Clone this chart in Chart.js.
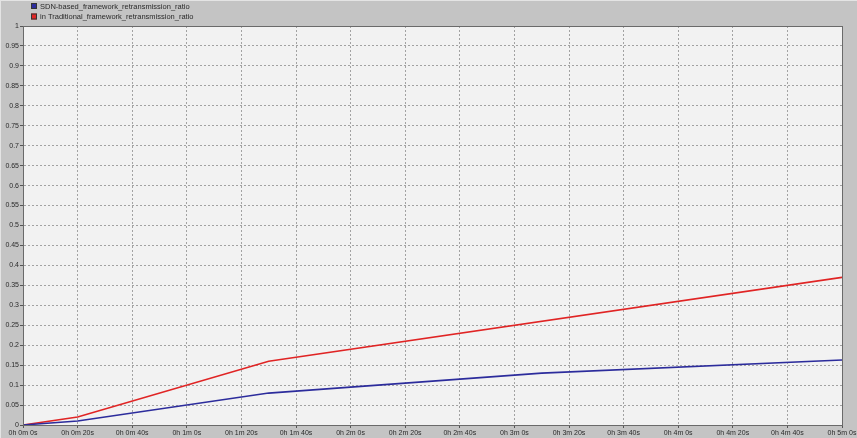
<!DOCTYPE html>
<html>
<head>
<meta charset="utf-8">
<script src="https://cdn.jsdelivr.net/npm/chart.js@4/dist/chart.umd.min.js"></script>
<style>
  html, body { margin: 0; padding: 0; background: #c4c4c4; }
  #wrap { width: 857px; height: 438px; }
</style>
</head>
<body>
<div id="wrap"><canvas id="c" width="857" height="438"></canvas></div>
<script>
// ---- data (time in seconds, ratio values) ----
const seriesNames = ["SDN-based_framework_retransmission_ratio", "in Traditional_framework_retransmission_ratio"];
const sdnTimes = [0, 20, 90, 190, 300];
const sdnRatio = [0, 0.01, 0.08, 0.13, 0.163];
const tradTimes = [0, 20, 90, 300];
const tradRatio = [0, 0.02, 0.16, 0.37];
const xTickSeconds = [0, 20, 40, 60, 80, 100, 120, 140, 160, 180, 200, 220, 240, 260, 280, 300];
const xTickLabels = ["0h 0m 0s", "0h 0m 20s", "0h 0m 40s", "0h 1m 0s", "0h 1m 20s", "0h 1m 40s", "0h 2m 0s", "0h 2m 20s", "0h 2m 40s", "0h 3m 0s", "0h 3m 20s", "0h 3m 40s", "0h 4m 0s", "0h 4m 20s", "0h 4m 40s", "0h 5m 0s"];
const yTickLabels = ["0", "0.05", "0.1", "0.15", "0.2", "0.25", "0.3", "0.35", "0.4", "0.45", "0.5", "0.55", "0.6", "0.65", "0.7", "0.75", "0.8", "0.85", "0.9", "0.95", "1"];

const FONT = { family: "'Liberation Sans', Arial, sans-serif", size: 7 };
const LEGEND_FONT_SIZE = 7.5;
const TEXT_COLOR = "#2a2a2a";

const bgPlugin = {
  id: 'bg',
  beforeDraw(chart) {
    const { ctx, chartArea: a } = chart;
    ctx.save();
    ctx.fillStyle = '#c4c4c4';
    ctx.fillRect(0, 0, chart.width, chart.height);
    ctx.fillStyle = '#e4e4e4';
    ctx.fillRect(0, 0, chart.width, 1);
    ctx.fillRect(0, 0, 1, chart.height);
    ctx.fillStyle = '#f2f2f2';
    ctx.fillRect(a.left, a.top, a.right - a.left, a.bottom - a.top);
    ctx.restore();
  },
  afterDraw(chart) {
    const { ctx, chartArea: a } = chart;
    ctx.save();
    ctx.setLineDash([]);
    ctx.strokeStyle = '#6a6a6a';
    ctx.lineWidth = 1;
    ctx.strokeRect(Math.round(a.left) + 0.5, Math.round(a.top) + 0.5, Math.round(a.right - a.left), Math.round(a.bottom - a.top));
    // legend
    ctx.font = LEGEND_FONT_SIZE + "px " + FONT.family;
    ctx.textBaseline = 'middle';
    ctx.textAlign = 'left';
    chart.data.datasets.forEach((ds, i) => {
      const y = 6 + i * 10.5;
      ctx.fillStyle = ds.borderColor;
      ctx.fillRect(31, y - 3, 6, 6);
      ctx.strokeStyle = '#333';
      ctx.strokeRect(31.5, y - 2.5, 5, 5);
      ctx.fillStyle = TEXT_COLOR;
      ctx.fillText(ds.label, 40, y + 0.5);
    });
    ctx.restore();
  }
};

const gridOpts = {
  color: '#a2a2a2',
  lineWidth: 1,
  tickLength: 3,
  tickColor: '#555',
  tickBorderDash: []
};

new Chart(document.getElementById('c'), {
  type: 'line',
  data: {
    datasets: [
      {
        label: seriesNames[0],
        data: sdnTimes.map((t, i) => ({ x: t, y: sdnRatio[i] })),
        borderColor: '#2c2c9c',
        backgroundColor: '#2c2c9c',
        borderWidth: 1.6,
        pointRadius: 0,
        tension: 0
      },
      {
        label: seriesNames[1],
        data: tradTimes.map((t, i) => ({ x: t, y: tradRatio[i] })),
        borderColor: '#e02424',
        backgroundColor: '#e02424',
        borderWidth: 1.6,
        pointRadius: 0,
        tension: 0
      }
    ]
  },
  options: {
    responsive: false,
    animation: false,
    layout: { padding: { top: 26, right: 15, left: 0, bottom: 0 } },
    plugins: { legend: { display: false }, tooltip: { enabled: false } },
    scales: {
      x: {
        type: 'linear',
        min: xTickSeconds[0],
        max: xTickSeconds[xTickSeconds.length - 1],
        afterBuildTicks(scale) { scale.ticks = xTickSeconds.map(v => ({ value: v })); },
        afterFit(scale) { scale.height = 13; scale.paddingLeft = 0; scale.paddingRight = 0; },
        ticks: {
          autoSkip: false,
          maxRotation: 0,
          minRotation: 0,
          padding: 1,
          color: TEXT_COLOR,
          font: FONT,
          callback: (v, i) => xTickLabels[i]
        },
        grid: gridOpts,
        border: { display: true, color: '#6a6a6a', width: 1, dash: [2, 2] }
      },
      y: {
        type: 'linear',
        min: 0,
        max: 1,
        afterBuildTicks(scale) { scale.ticks = yTickLabels.map(s => ({ value: parseFloat(s) })); },
        afterFit(scale) { scale.width = 23; },
        ticks: {
          autoSkip: false,
          padding: 1,
          color: TEXT_COLOR,
          font: FONT,
          callback: (v, i) => yTickLabels[i]
        },
        grid: gridOpts,
        border: { display: true, color: '#6a6a6a', width: 1, dash: [2, 2] }
      }
    }
  },
  plugins: [bgPlugin]
});
</script>
</body>
</html>
